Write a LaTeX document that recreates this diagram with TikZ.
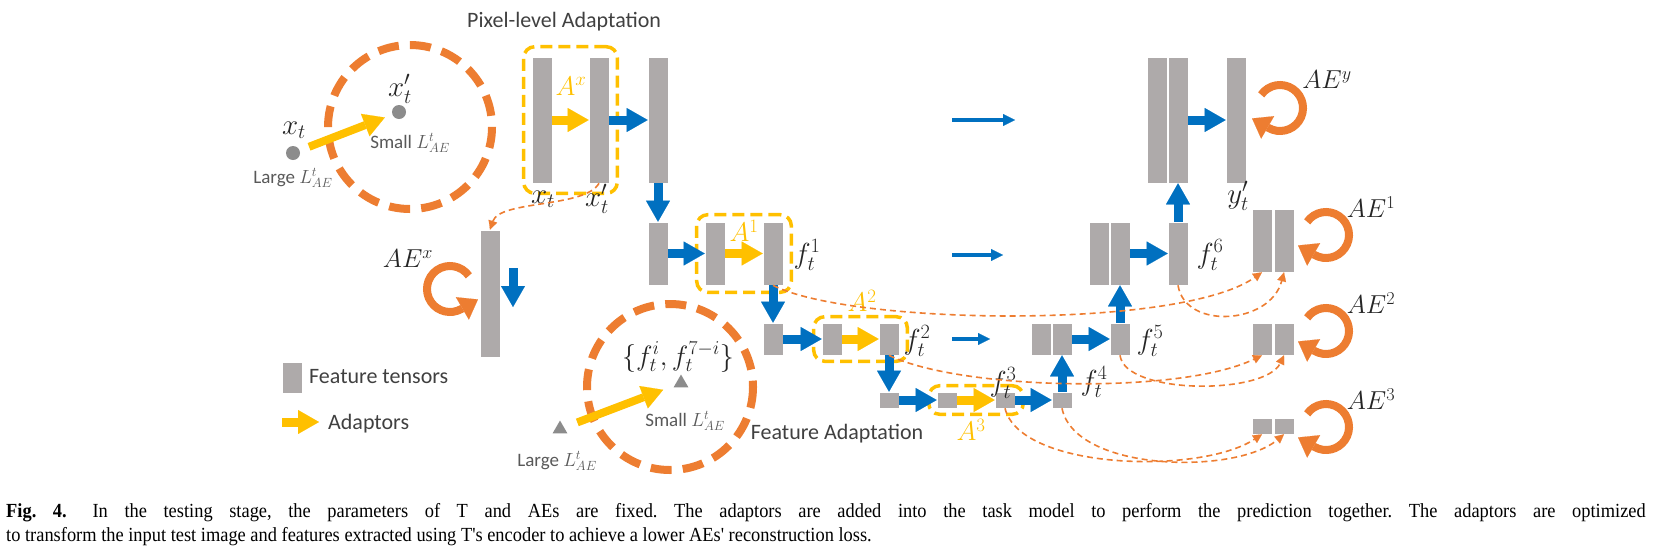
\RequirePackage{fix-cm}
\documentclass[tikz,border=0pt]{standalone}
\usepackage{fontspec}
\setmainfont{Carlito}
\newfontfamily\capfont{Liberation Serif}
\usepackage{xcolor}
\usepackage{graphicx}
\usetikzlibrary{arrows.meta}
\usetikzlibrary{calc,fit,shapes.geometric}

\definecolor{barGray}{HTML}{AEAAAA}
\definecolor{aeBlue}{HTML}{0070C0}
\definecolor{aeOrange}{HTML}{ED7D31}
\definecolor{aeYellow}{HTML}{FFC000}
\definecolor{dotGray}{HTML}{8C8C8C}
\definecolor{txtGray}{HTML}{404040}

\tikzset{
  tensor/.style={rectangle, fill=barGray, draw=white, line width=0.6pt, inner sep=0pt, minimum width=20pt},
  tall/.style={tensor, minimum height=126pt},
  mid/.style={tensor, minimum height=63pt},
  low/.style={tensor, minimum height=32pt},
  tiny/.style={tensor, minimum height=16pt},
  blockarrow/.style={aeBlue, line width=9pt, -{Triangle[length=21pt,width=24pt,line width=0.1pt]}},
  adaptarrow/.style={aeYellow, line width=9pt, -{Triangle[length=21pt,width=24pt,line width=0.1pt]}},
  skiparrow/.style={aeBlue, line width=4pt, -{Triangle[length=12pt,width=12pt,line width=0.1pt]}},
  adaptbox/.style={draw=aeYellow, line width=3.5pt, dash pattern=on 12pt off 6pt, rounded corners=11pt, inner xsep=8pt, inner ysep=7pt},
  losscircle/.style={draw=aeOrange, line width=8pt, dash pattern=on 21pt off 11.2pt},
  aeloop/.style={aeOrange, line width=8pt, -{Triangle[length=18pt,width=26pt,line width=0.1pt]}},
  recon/.style={aeOrange, line width=1.6pt, dash pattern=on 6pt off 4pt, -{Triangle[length=9pt,width=9pt,line width=0.1pt]}},
  note/.style={text=txtGray, font=\fontsize{22}{26}\selectfont, inner sep=0pt},
  losstxt/.style={text=black!65, font=\fontsize{19}{22}\selectfont, inner sep=0pt},
  mathlbl/.style={text=black!85, font=\fontsize{29}{32}\selectfont, inner sep=0pt},
  aelbl/.style={text=black!85, font=\fontsize{26}{30}\selectfont, inner sep=0pt},
  adaptlbl/.style={text=aeYellow, font=\fontsize{27}{30}\selectfont, inner sep=0pt},
  pointdot/.style={circle, fill=dotGray, minimum size=14pt, inner sep=0pt},
  pointtri/.style={regular polygon, regular polygon sides=3, fill=dotGray, minimum size=17pt, inner sep=0pt}
}

\begin{document}
\begin{tikzpicture}[x=1pt, y=-1pt]
  \useasboundingbox (0,0) rectangle (1653,552);

  % loss space, pixel level
  \draw[losscircle] (410,127) circle[radius=82];
  \node[pointdot] (xtdot) at (293,153) {};
  \node[pointdot] (xpdot) at (399,112) {};
  \draw[adaptarrow, line width=8pt, shorten <=10pt, shorten >=8pt] (xtdot) -- (xpdot);
  \node[mathlbl] (lxt) at (294,130) {$x_t$};
  \node[mathlbl] (lxp) at (400,89) {$x'_t$};
  \node[losstxt] (lbig1) at (293,178) {Large $L^t_{AE}$};
  \node[losstxt] (lsmall1) at (410,143) {Small $L^t_{AE}$};

  % encoder
  \node[note, anchor=west] (pixtitle) at (467,22) {Pixel-level Adaptation};
  \node[tall] (xt) at (542,120) {};
  \node[tall] (xp) at (599,120) {};
  \node[tall] (e0) at (658,120) {};
  \node[mid] (e1a) at (658,253.5) {};
  \node[mid] (e1b) at (715,253.5) {};
  \node[mid] (f1) at (773,253.5) {};
  \node[low] (e2a) at (773,339) {};
  \node[low] (e2b) at (832,339) {};
  \node[low] (f2) at (889,339) {};
  \node[tiny] (e3a) at (889,400) {};
  \node[tiny] (e3b) at (947,400) {};
  \node[tiny] (f3) at (1005,400) {};
  \node[tiny] (f4) at (1062,400) {};

  % decoder
  \node[low] (d2a) at (1041,339) {};
  \node[low] (d2b) at (1062,339) {};
  \node[low] (f5) at (1120,339) {};
  \node[mid] (d1a) at (1099,253.5) {};
  \node[mid] (d1b) at (1120,253.5) {};
  \node[mid] (f6) at (1178,253.5) {};
  \node[tall] (d0a) at (1157,120) {};
  \node[tall] (d0b) at (1178,120) {};
  \node[tall] (yp) at (1236,120) {};

  % adaptors
  \node[adaptbox, inner ysep=10pt, fit=(xt)(xp)] (boxAx) {};
  \node[adaptbox, fit=(e1b)(f1)] (boxA1) {};
  \node[adaptbox, inner ysep=6pt, fit=(e2b)(f2)] (boxA2) {};
  \node[adaptbox, inner ysep=6pt, fit=(e3b)(f3)] (boxA3) {};
  \draw[adaptarrow] (xt) -- (xp);
  \draw[adaptarrow] (e1b) -- (f1);
  \draw[adaptarrow] (e2b) -- (f2);
  \draw[adaptarrow] (e3b) -- (f3);

  % task model flow
  \draw[blockarrow] (xp) -- (e0);
  \draw[blockarrow] (e0) -- (e1a);
  \draw[blockarrow] (e1a) -- (e1b);
  \draw[blockarrow] (f1) -- (e2a);
  \draw[blockarrow] (e2a) -- (e2b);
  \draw[blockarrow] (f2) -- (e3a);
  \draw[blockarrow] (e3a) -- (e3b);
  \draw[blockarrow] (f3) -- (f4);
  \draw[blockarrow] (f4) -- (d2b);
  \draw[blockarrow] (d2b) -- (f5);
  \draw[blockarrow] (f5) -- (d1b);
  \draw[blockarrow] (d1b) -- (f6);
  \draw[blockarrow] (f6) -- (d0b);
  \draw[blockarrow] (d0b) -- (yp);

  % skip connections
  \coordinate (s0a) at (952,120); \coordinate (s0b) at (1015,120);
  \coordinate (s1a) at (952,255); \coordinate (s1b) at (1003,255);
  \coordinate (s2a) at (952,339); \coordinate (s2b) at (990,339);
  \draw[skiparrow] (s0a) -- (s0b);
  \draw[skiparrow] (s1a) -- (s1b);
  \draw[skiparrow] (s2a) -- (s2b);

  % labels
  \node[adaptlbl] (lAx) at (571,86) {$A^x$};
  \node[adaptlbl] (lA1) at (744,231) {$A^1$};
  \node[adaptlbl] (lA2) at (862,301) {$A^2$};
  \node[adaptlbl] (lA3) at (971,430) {$A^3$};
  \node[mathlbl] (lxtb) at (543,199) {$x_t$};
  \node[mathlbl] (lxpb) at (597,199) {$x'_t$};
  \node[mathlbl] (lf1) at (807,255) {$f_t^1$};
  \node[mathlbl] (lf2) at (917,341) {$f_t^2$};
  \node[mathlbl] (lf3) at (1003,383) {$f_t^3$};
  \node[mathlbl] (lf4) at (1094,382) {$f_t^4$};
  \node[mathlbl] (lf5) at (1150,341) {$f_t^5$};
  \node[mathlbl] (lf6) at (1210,255) {$f_t^6$};
  \node[mathlbl] (lyp) at (1238,196) {$y'_t$};
  \node[note] (featitle) at (837,434) {Feature Adaptation};

  % autoencoders
  \node[tensor, minimum height=127pt] (aex) at (490,293.5) {};
  \coordinate (aexa) at (513,268); \coordinate (aexb) at (513,307);
  \draw[blockarrow] (aexa) -- (aexb);
  \node[mid] (ae1a) at (1262,240.5) {};
  \node[mid] (ae1b) at (1284,240.5) {};
  \node[low] (ae2a) at (1262,339) {};
  \node[low] (ae2b) at (1284,339) {};
  \node[tiny] (ae3a) at (1262,426) {};
  \node[tiny] (ae3b) at (1284,426) {};

  \coordinate (aey) at (1280,108);
  \coordinate (ae1) at (1326,235);
  \coordinate (ae2) at (1326,331);
  \coordinate (ae3) at (1326,427);
  \coordinate (aexloop) at (450,289);
  \foreach \c in {aey,ae1,ae2,ae3}
    \draw[aeloop] ($(\c)+(-145:23)$) arc[start angle=-145, end angle=120, radius=23] -- ++(210:19);
  \draw[aeloop] ($(aexloop)+(-35:23)$) arc[start angle=-35, end angle=-300, radius=23] -- ++(-30:19);
  \node[aelbl] (lAEy) at (1327,80) {$AE^y$};
  \node[aelbl] (lAE1) at (1371,207) {$AE^1$};
  \node[aelbl] (lAE2) at (1371,303) {$AE^2$};
  \node[aelbl] (lAE3) at (1371,399) {$AE^3$};
  \node[aelbl] (lAEx) at (408,259) {$AE^x$};

  % reconstruction inputs
  \draw[recon] (xp.south) .. controls (585,208) and (500,200) .. (aex.north);
  \draw[recon] (f1.south) .. controls (850,325) and (1180,330) .. (ae1a.south);
  \draw[recon] (f6.south) .. controls (1185,330) and (1270,325) .. (ae1b.south);
  \draw[recon] (f2.south) .. controls (960,390) and (1180,395) .. (ae2a.south);
  \draw[recon] (f5.south) .. controls (1125,395) and (1265,395) .. (ae2b.south);
  \draw[recon] (f3.south) .. controls (1020,470) and (1200,475) .. (ae3a.south);
  \draw[recon] (f4.south) .. controls (1075,472) and (1235,475) .. (ae3b.south);

  % loss space, feature level
  \draw[losscircle] (670,387) circle[radius=83];
  \node[pointtri] (tri1) at (560,429) {};
  \node[pointtri] (tri2) at (681,383) {};
  \draw[adaptarrow, line width=8pt, shorten <=14pt, shorten >=12pt] (tri1) -- (tri2);
  \node[mathlbl, font=\fontsize{28}{32}\selectfont] (lset) at (678,357) {$\{f_t^i, f_t^{7-i}\}$};
  \node[losstxt] (lbig2) at (557,461) {Large $L^t_{AE}$};
  \node[losstxt] (lsmall2) at (685,421) {Small $L^t_{AE}$};

  % legend
  \node[tensor, minimum height=31pt] (legbar) at (292,377.5) {};
  \node[note, anchor=west] (legbartxt) at (309,377) {Feature tensors};
  \coordinate (legA) at (282,422); \coordinate (legB) at (319,422);
  \draw[adaptarrow] (legA) -- (legB);
  \node[note, anchor=west] (legarrtxt) at (328,424) {Adaptors};

  % caption
  \node[anchor=base west, inner sep=0pt, font=\capfont\fontsize{20}{24}\selectfont] (cap1) at (6,517)
    {\frenchspacing\scalebox{0.92}[1]{\makebox[1782pt][s]{\textbf{Fig. 4.}\hspace{0.5em} In the testing stage, the parameters of T and AEs are fixed. The adaptors are added into the task model to perform the prediction together. The adaptors are optimized}}};
  \node[anchor=base west, inner sep=0pt, font=\capfont\fontsize{20}{24}\selectfont] (cap2) at (6,541)
    {\frenchspacing\scalebox{0.92}[1]{to transform the input test image and features extracted using T's encoder to achieve a lower AEs' reconstruction loss.}};
\end{tikzpicture}
\end{document}
